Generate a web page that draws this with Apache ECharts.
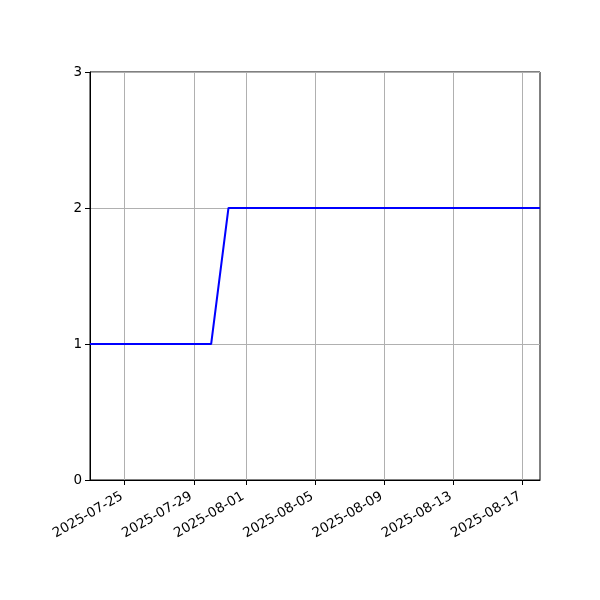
<!DOCTYPE html>
<html>
<head>
<meta charset="utf-8">
<script src="https://cdn.jsdelivr.net/npm/echarts@6/dist/echarts.min.js"></script>
<style>
  html, body { margin: 0; padding: 0; background: #fff; }
  #chart { width: 600px; height: 600px; }
</style>
</head>
<body>
<div id="chart"></div>
<script>
// daily values
const dates = [
    '2025-07-23', '2025-07-24', '2025-07-25', '2025-07-26', '2025-07-27', '2025-07-28',
    '2025-07-29', '2025-07-30', '2025-07-31', '2025-08-01', '2025-08-02', '2025-08-03',
    '2025-08-04', '2025-08-05', '2025-08-06', '2025-08-07', '2025-08-08', '2025-08-09',
    '2025-08-10', '2025-08-11', '2025-08-12', '2025-08-13', '2025-08-14', '2025-08-15',
    '2025-08-16', '2025-08-17', '2025-08-18'
]
const values = [
    1, 1, 1, 1, 1, 1,
    1, 1, 2, 2, 2, 2,
    2, 2, 2, 2, 2, 2,
    2, 2, 2, 2, 2, 2,
    2, 2, 2
]
const xTicks = ['2025-07-25', '2025-07-29', '2025-08-01', '2025-08-05', '2025-08-09', '2025-08-13', '2025-08-17']
const yTicks = [0, 1, 2, 3]

function toTime(s) {
    return Date.parse(s + 'T00:00:00Z')
}

function formatDay(v) {
    let d = new Date(v)
    let m = ('0' + (d.getUTCMonth() + 1)).slice(-2)
    let day = ('0' + d.getUTCDate()).slice(-2)
    return d.getUTCFullYear() + '-' + m + '-' + day
}

const tickTimes = xTicks.map(toTime)
const seriesData = dates.map((d, i) => [toTime(d), values[i]])

const font = 'DejaVu Sans'
let chart = echarts.init(document.getElementById('chart'), null, { renderer: 'canvas' })

chart.setOption({
    animation: false,
    grid: {
        left: 90, right: 60, top: 72, bottom: 120,
        show: true, borderColor: '#000', borderWidth: 1, backgroundColor: 'transparent'
    },
    xAxis: {
        type: 'value',
        min: toTime(dates[0]),
        max: toTime(dates[dates.length - 1]),
        axisLine: { show: true, lineStyle: { color: '#000', width: 1 } },
        axisTick: {
            show: true, length: 5, inside: false,
            customValues: tickTimes,
            lineStyle: { color: '#000', width: 1 }
        },
        axisLabel: {
            customValues: tickTimes,
            formatter: formatDay,
            rotate: 30,
            color: '#000',
            fontFamily: font,
            fontSize: 13.5,
            margin: 14,
            padding: [0, 3, 0, 0]
        },
        splitLine: { show: true, lineStyle: { color: '#b0b0b0', width: 1 } }
    },
    yAxis: {
        type: 'value',
        min: yTicks[0],
        max: yTicks[yTicks.length - 1],
        interval: 1,
        axisLine: { show: true, lineStyle: { color: '#000', width: 1 } },
        axisTick: { show: true, length: 5, lineStyle: { color: '#000', width: 1 } },
        axisLabel: { color: '#000', fontFamily: font, fontSize: 13.5, margin: 8 },
        splitLine: { show: true, lineStyle: { color: '#b0b0b0', width: 1 } }
    },
    series: [{
        type: 'line',
        data: seriesData,
        showSymbol: false,
        lineStyle: { color: '#0000ff', width: 2 },
        itemStyle: { color: '#0000ff' }
    }]
})
</script>
</body>
</html>
